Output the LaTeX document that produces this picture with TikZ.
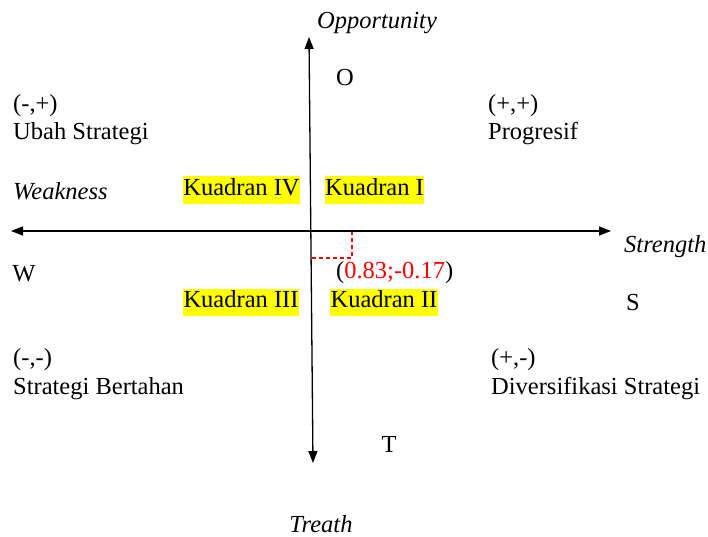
\documentclass[tikz,border=0pt]{standalone}
\usepackage{fontspec}
\setmainfont{Liberation Serif}
\usetikzlibrary{arrows.meta}
\definecolor{hl}{HTML}{FFFF00}
\definecolor{pt}{HTML}{FF0000}
\tikzset{
  lbl/.style={inner sep=0pt, font=\fontsize{24.5pt}{28pt}\selectfont},
  lblw/.style={lbl, anchor=west},
  ital/.style={lbl, font=\fontsize{24.5pt}{28pt}\selectfont\itshape},
  quad/.style={lbl, fill=hl, text height=19pt, text depth=8pt, inner xsep=0.5pt},
  axis/.style={line width=1.3pt, {Triangle[length=12pt,width=9pt]}-{Triangle[length=12pt,width=9pt]}},
  guide/.style={pt, line width=1.1pt, dash pattern=on 4pt off 3pt}
}
\begin{document}
\begin{tikzpicture}[x=1pt,y=-1pt]
\useasboundingbox (0,0) rectangle (708,537);
% axes
\coordinate (vtop) at (309,37);
\coordinate (vbot) at (313,463);
\coordinate (hleft) at (11,231);
\coordinate (hright) at (611,231);
\draw[axis] (vtop) -- (vbot);
\draw[axis] (hleft) -- (hright);
% red guide
\coordinate (g1) at (312,258);
\coordinate (g2) at (352,258);
\coordinate (g3) at (352,232);
\draw[guide] (g1) -- (g2) -- (g3);
% axis labels
\node[ital] (opp) at (377,23) {Opportunity};
\node[ital,anchor=west] (str) at (624,247) {Strength};
\node[ital,anchor=west] (weak) at (13,191) {Weakness};
\node[ital] (tre) at (321,524) {Treath};
\node[lbl] (O) at (345,78) {O};
\node[lbl] (T) at (389,444) {T};
\node[lbl] (W) at (24,274) {W};
\node[lbl] (S) at (633,303) {S};
% corner strategies
\node[lblw] (c1) at (13,106) {(-,+)};
\node[lblw] (c1b) at (13,134) {Ubah Strategi};
\node[lblw] (c2) at (488,106) {(+,+)};
\node[lblw] (c2b) at (488,134) {Progresif};
\node[lblw] (c3) at (13,360) {(-,-)};
\node[lblw] (c3b) at (13,389) {Strategi Bertahan};
\node[lblw] (c4) at (491,360) {(+,-)};
\node[lblw] (c4b) at (491,389) {Diversifikasi Strategi};
% quadrants
\node[quad] (q4) at (241.5,190) {Kuadran IV};
\node[quad] (q1) at (374.5,190) {Kuadran I};
\node[quad] (q3) at (241,302) {Kuadran III};
\node[quad] (q2) at (384,302) {Kuadran II};
% point
\node[lblw] (pt) at (336,273) {(\textcolor{pt}{0.83;-0.17})};
\end{tikzpicture}
\end{document}
